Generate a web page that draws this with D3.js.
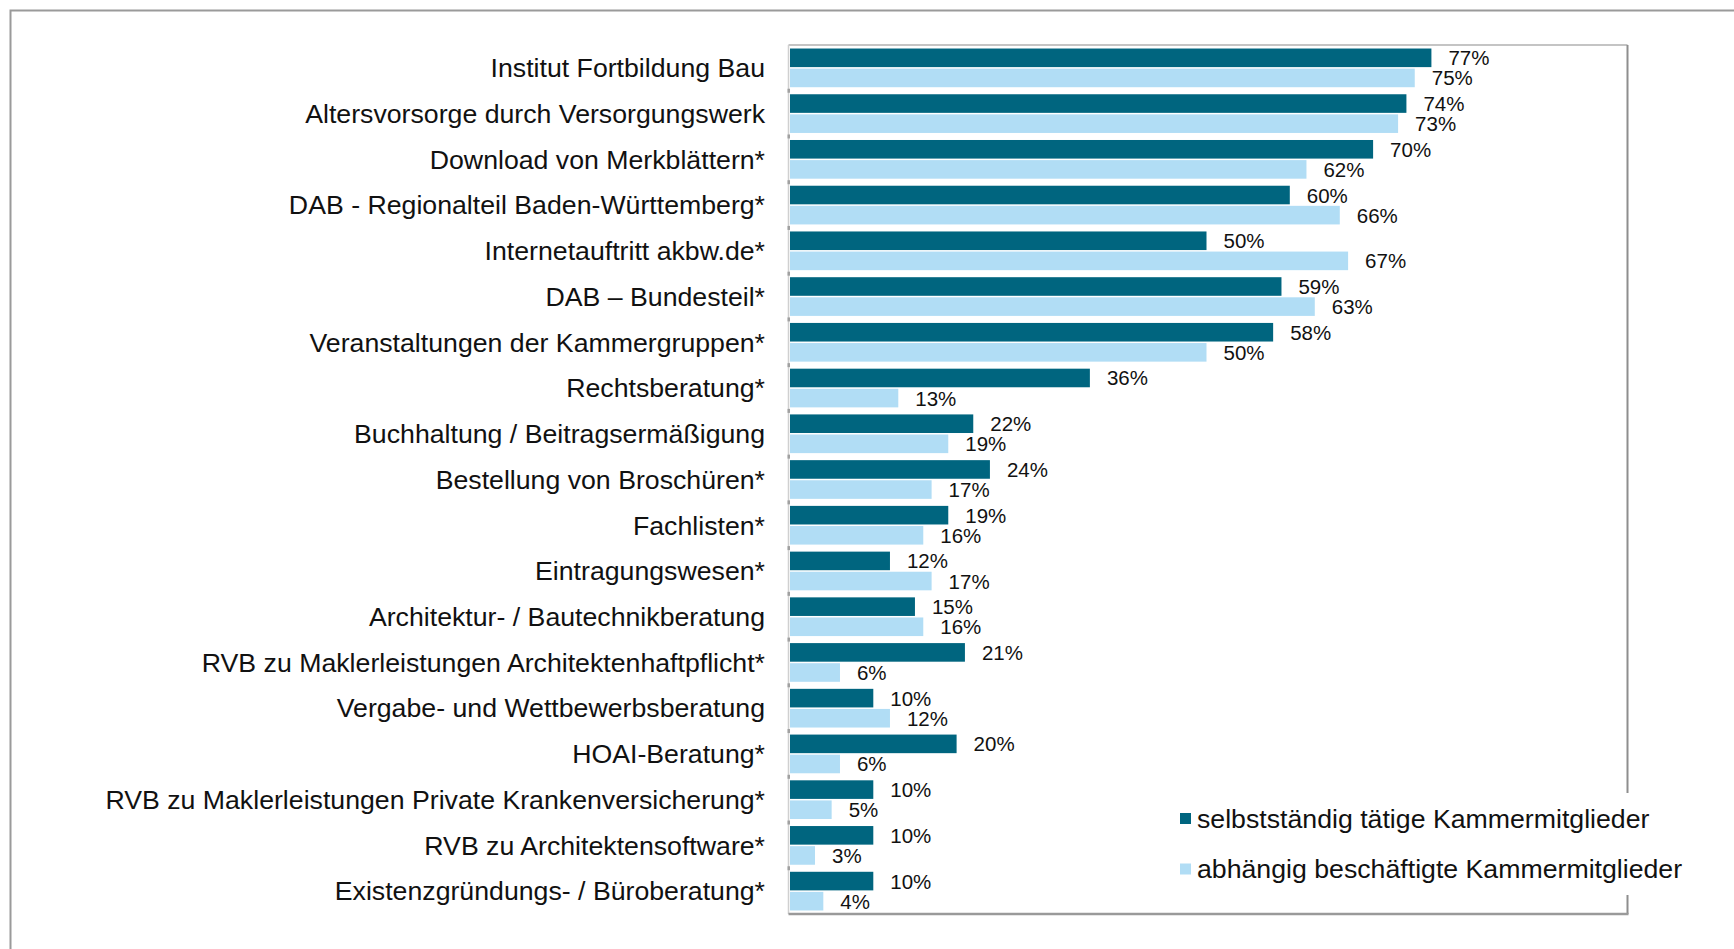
<!DOCTYPE html>
<html>
<head>
<meta charset="utf-8">
<script src="https://cdn.jsdelivr.net/npm/d3@7"></script>
<style>
  html, body { margin: 0; padding: 0; background: #fff; }
  svg { display: block; }
  text { font-family: "Liberation Sans", Arial, sans-serif; fill: #111; }
</style>
</head>
<body>
<svg id="chart" width="1734" height="949"></svg>
<script>
const categories = [
  "Institut Fortbildung Bau",
  "Altersvorsorge durch Versorgungswerk",
  "Download von Merkblättern*",
  "DAB - Regionalteil Baden-Württemberg*",
  "Internetauftritt akbw.de*",
  "DAB – Bundesteil*",
  "Veranstaltungen der Kammergruppen*",
  "Rechtsberatung*",
  "Buchhaltung / Beitragsermäßigung",
  "Bestellung von Broschüren*",
  "Fachlisten*",
  "Eintragungswesen*",
  "Architektur- / Bautechnikberatung",
  "RVB zu Maklerleistungen Architektenhaftpflicht*",
  "Vergabe- und Wettbewerbsberatung",
  "HOAI-Beratung*",
  "RVB zu Maklerleistungen Private Krankenversicherung*",
  "RVB zu Architektensoftware*",
  "Existenzgründungs- / Büroberatung*"
];
const selbststaendig = [77, 74, 70, 60, 50, 59, 58, 36, 22, 24, 19, 12, 15, 21, 10, 20, 10, 10, 10];
const abhaengig      = [75, 73, 62, 66, 67, 63, 50, 13, 19, 17, 16, 17, 16, 6, 12, 6, 5, 3, 4];
const seriesNames = ["selbstständig tätige Kammermitglieder", "abhängig beschäftigte Kammermitglieder"];
const seriesColors = ["#00657f", "#b1ddf5"];

const svg = d3.select("#chart");

// outer border
svg.append("rect").attr("x", 10.5).attr("y", 10.5).attr("width", 1800).attr("height", 1000)
  .attr("fill", "none").attr("stroke", "#9a9a9a").attr("stroke-width", 2);

const frame = {left: 788.5, top: 45, right: 1627.5, bottom: 914};

const x = d3.scaleLinear().domain([0, 100]).range([790, 1623]);
const y = d3.scaleBand().domain(categories).range([frame.top, frame.bottom]).padding(0);
const inner = d3.scaleBand().domain([0, 1]).range([0, y.bandwidth()])
  .paddingInner(0.075).paddingOuter(0.175);

// frame
svg.append("line").attr("x1", frame.left).attr("x2", frame.right).attr("y1", frame.top).attr("y2", frame.top)
  .attr("stroke", "#b0b0b0").attr("stroke-width", 1.5);
svg.append("line").attr("x1", frame.left).attr("x2", frame.left).attr("y1", frame.top).attr("y2", frame.bottom)
  .attr("stroke", "#d0d0d0").attr("stroke-width", 1.5);
svg.append("line").attr("x1", frame.right).attr("x2", frame.right).attr("y1", frame.top).attr("y2", frame.bottom)
  .attr("stroke", "#8e8e8e").attr("stroke-width", 2);
svg.append("line").attr("x1", frame.left).attr("x2", frame.right + 1).attr("y1", frame.bottom).attr("y2", frame.bottom)
  .attr("stroke", "#9a9a9a").attr("stroke-width", 2.5);

// small ticks between categories on the left axis
const tickYs = categories.slice(1).map(c => y(c));
svg.append("g").selectAll("rect").data(tickYs).join("rect")
  .attr("x", 787.5).attr("y", d => d - 2).attr("width", 2.5).attr("height", 4)
  .attr("fill", "#a0a0a0");

// category labels
svg.append("g").selectAll("text").data(categories).join("text")
  .attr("x", 765).attr("y", d => y(d) + y.bandwidth() / 2 + 9.3)
  .attr("text-anchor", "end").attr("font-size", 26.7).text(d => d);

// bars
const rows = categories.map((c, i) => ({c, vals: [selbststaendig[i], abhaengig[i]]}));
const groups = svg.append("g").selectAll("g").data(rows).join("g")
  .attr("transform", d => `translate(0,${y(d.c)})`);
groups.selectAll("rect").data(d => d.vals.map((v, k) => ({v, k}))).join("rect")
  .attr("x", x(0)).attr("y", d => inner(d.k)).attr("width", d => x(d.v) - x(0))
  .attr("height", inner.bandwidth()).attr("fill", d => seriesColors[d.k]);
groups.selectAll("text").data(d => d.vals.map((v, k) => ({v, k}))).join("text")
  .attr("x", d => x(d.v) + 17).attr("y", d => inner(d.k) + inner.bandwidth() / 2 + 7.5)
  .attr("font-size", 20.5).text(d => d.v + "%");

// legend
const leg = svg.append("g");
leg.append("rect").attr("x", 1165).attr("y", 793).attr("width", 560).attr("height", 102).attr("fill", "#fff");
const legY = [818.5, 869];
seriesNames.forEach((name, i) => {
  leg.append("rect").attr("x", 1180).attr("y", legY[i] - 5.5).attr("width", 11).attr("height", 11)
    .attr("fill", seriesColors[i]);
  leg.append("text").attr("x", 1197).attr("y", legY[i] + 9.3).attr("font-size", 26.7).text(name);
});
</script>
</body>
</html>
